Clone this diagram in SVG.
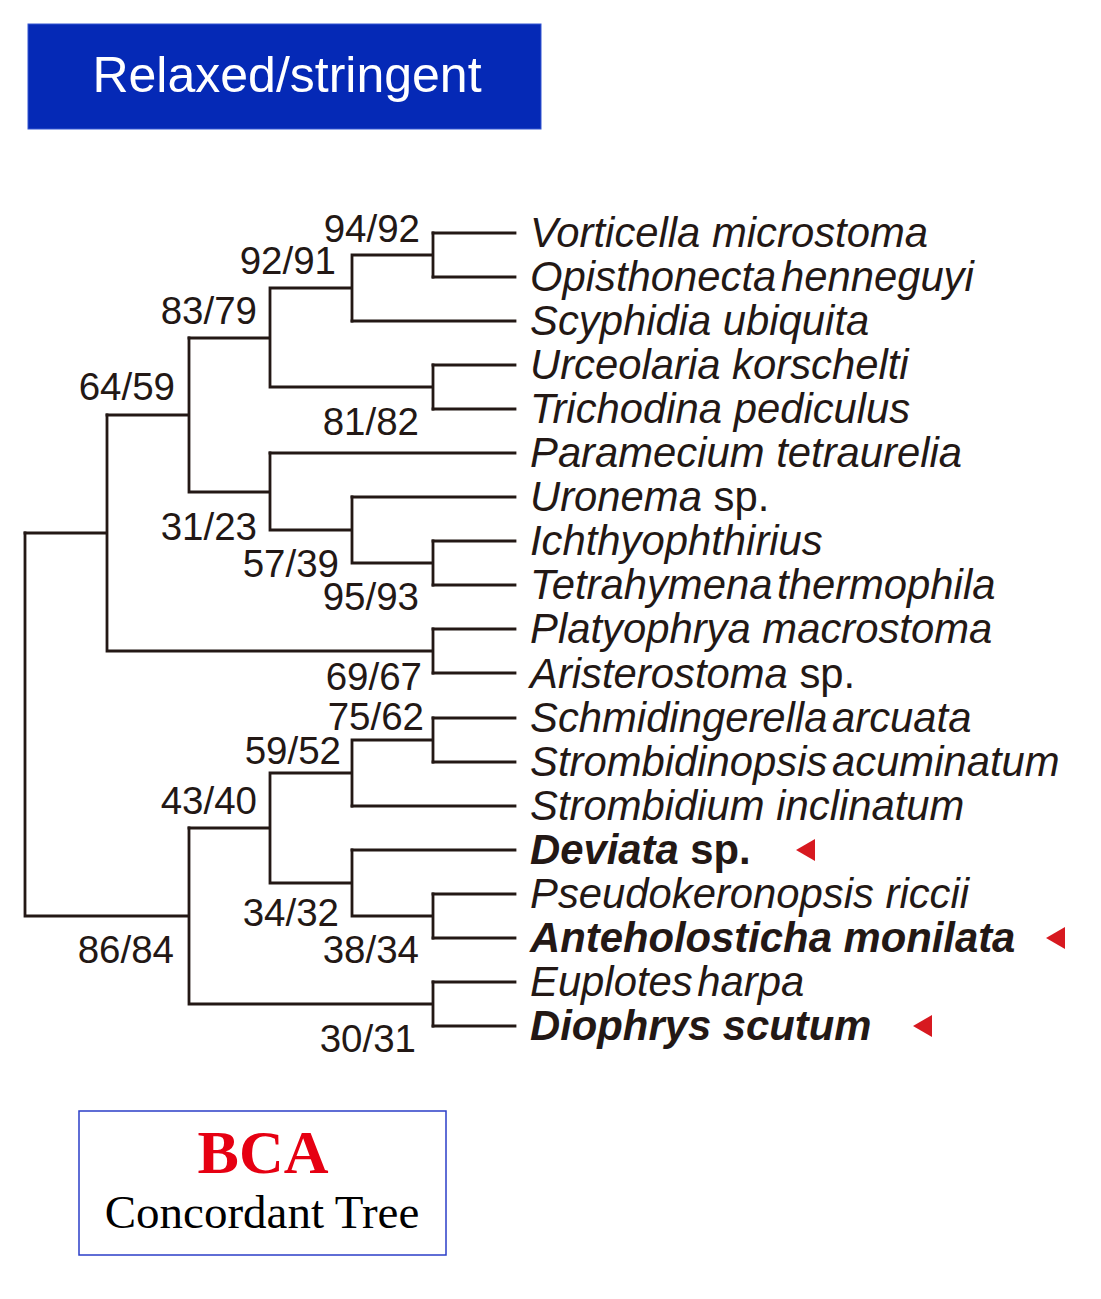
<svg xmlns="http://www.w3.org/2000/svg" width="1101" height="1299" viewBox="0 0 1101 1299">
<style>
.br{fill:none;stroke:#231815;stroke-width:2.8;stroke-linecap:square}
.bs{font-family:"Liberation Sans",Arial,sans-serif;font-size:38.5px;fill:#231815;text-anchor:end}
.tx{font-family:"Liberation Sans",Arial,sans-serif;font-size:41.8px;font-style:italic;fill:#231815}
.bd{font-weight:bold}
.up{font-style:normal}
.nw{word-spacing:-7px}
.mk{fill:#d71920}
</style>
<rect width="1101" height="1299" fill="#ffffff"/>
<g id="title">
<rect x="28" y="24" width="513" height="105" fill="#0529b6" stroke="#3556d2" stroke-width="1"/>
<text x="287" y="92" text-anchor="middle" font-family="'Liberation Sans',Arial,sans-serif" font-size="50" fill="#ffffff">Relaxed/stringent</text>
</g>
<g id="connectors">
<path class="br" d="M433,233H515M433,277H515M352,321H515M433,365H515M433,409H515M270,453H515M352,497H515M433,541H515M433,585H515M433,629H515M433,673H515M433,718H515M433,762H515M352,806H515M352,850H515M433,894H515M433,938H515M433,982H515M433,1026H515"/>
<path class="br" d="M433,233V277M352,255H433M352,255V321M270,288H352M433,365V409M270,387H433M270,288V387M189,338H270"/>
<path class="br" d="M433,541V585M352,563H433M352,497V563M270,530H352M270,453V530M189,492H270M189,338V492M107,415H189"/>
<path class="br" d="M433,629V673M107,651H433M107,415V651M25,533H107"/>
<path class="br" d="M433,718V762M352,740H433M352,740V806M270,773H352M433,894V938M352,916H433M352,850V916M270,883H352M270,773V883M189,828H270"/>
<path class="br" d="M433,982V1026M189,1004H433M189,828V1004M25,916H189M25,533V916"/>
</g>
<g id="support">
<text class="bs" x="420" y="242">94/92</text>
<text class="bs" x="336" y="274">92/91</text>
<text class="bs" x="257" y="324">83/79</text>
<text class="bs" x="175" y="400">64/59</text>
<text class="bs" x="419" y="435">81/82</text>
<text class="bs" x="257" y="540">31/23</text>
<text class="bs" x="339" y="577">57/39</text>
<text class="bs" x="419" y="610">95/93</text>
<text class="bs" x="422" y="690">69/67</text>
<text class="bs" x="424" y="730">75/62</text>
<text class="bs" x="341" y="764">59/52</text>
<text class="bs" x="257" y="814">43/40</text>
<text class="bs" x="339" y="926">34/32</text>
<text class="bs" x="174" y="963">86/84</text>
<text class="bs" x="419" y="963">38/34</text>
<text class="bs" x="416" y="1052">30/31</text>
</g>
<g id="taxa">
<text class="tx" x="530" y="247">Vorticella microstoma</text>
<text class="tx nw" x="530" y="291">Opisthonecta henneguyi</text>
<text class="tx" x="530" y="335">Scyphidia ubiquita</text>
<text class="tx" x="530" y="379">Urceolaria korschelti</text>
<text class="tx" x="530" y="423">Trichodina pediculus</text>
<text class="tx" x="530" y="467">Paramecium tetraurelia</text>
<text class="tx" x="530" y="511">Uronema <tspan class="up">sp.</tspan></text>
<text class="tx" x="530" y="555">Ichthyophthirius</text>
<text class="tx nw" x="530" y="599">Tetrahymena thermophila</text>
<text class="tx" x="530" y="643">Platyophrya macrostoma</text>
<text class="tx" x="530" y="688">Aristerostoma <tspan class="up">sp.</tspan></text>
<text class="tx nw" x="530" y="732">Schmidingerella arcuata</text>
<text class="tx nw" x="530" y="776">Strombidinopsis acuminatum</text>
<text class="tx" x="530" y="820">Strombidium inclinatum</text>
<text class="tx bd" x="530" y="864">Deviata <tspan class="up">sp.</tspan></text>
<text class="tx" x="530" y="908">Pseudokeronopsis riccii</text>
<text class="tx bd" x="530" y="952">Anteholosticha monilata</text>
<text class="tx nw" x="530" y="996">Euplotes harpa</text>
<text class="tx bd" x="530" y="1040">Diophrys scutum</text>
</g>
<g id="markers">
<polygon class="mk" points="796,850 815,839 815,861"/>
<polygon class="mk" points="1046,938 1065,927 1065,949"/>
<polygon class="mk" points="913,1026 932,1015 932,1037"/>
</g>
<g id="legend">
<rect x="79" y="1111" width="367" height="144" fill="#ffffff" stroke="#2b3ec8" stroke-width="1.5"/>
<text x="263" y="1173" text-anchor="middle" font-family="'Liberation Serif','Times New Roman',serif" font-weight="bold" font-size="62" fill="#e60012">BCA</text>
<text x="262" y="1228" text-anchor="middle" font-family="'Liberation Serif','Times New Roman',serif" font-size="47" fill="#000000">Concordant Tree</text>
</g>
</svg>
